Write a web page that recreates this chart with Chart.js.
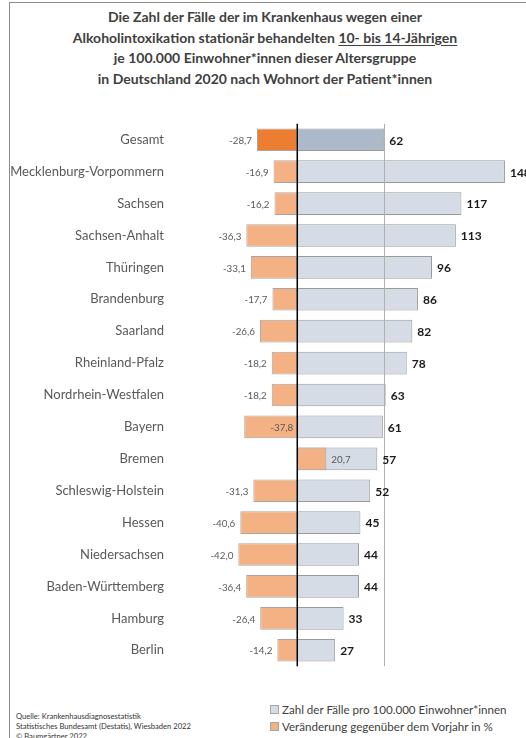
<!DOCTYPE html>
<html lang="de">
<head>
<meta charset="utf-8">
<script src="https://cdn.jsdelivr.net/npm/chart.js@4"></script>
<style>
  html, body { margin: 0; padding: 0; background: #fff; overflow: hidden; }
  body { width: 526px; height: 738px; position: relative; font-family: Lato, "Open Sans", sans-serif; }
  #rahmen { position: absolute; left: 9px; top: 2px; width: 700px; height: 900px;
            border-top: 1px solid #8c8c8c; border-left: 1px solid #8c8c8c; }
  #titel { position: absolute; left: 9px; width: 512px; top: 7px; text-align: center;
           font-weight: bold; font-size: 14px; line-height: 20.5px; color: #404040; }
  #titel u { text-decoration-thickness: 1px; text-underline-offset: 2px; }
  #box { position: absolute; left: 0; top: 110px; width: 526px; height: 570px; }
  #quelle { position: absolute; left: 16px; top: 711px; font-size: 7.6px; line-height: 10.2px; color: #333; }
  #legende { position: absolute; left: 270px; top: 701px; font-size: 11.6px; line-height: 17px; color: #404040; }
  #legende span.q { display: inline-block; width: 7px; height: 7px; margin-right: 3px; vertical-align: 0px; }
</style>
</head>
<body>
<div id="rahmen"></div>
<div id="titel">
  Die Zahl der Fälle der im Krankenhaus wegen einer<br>
  Alkoholintoxikation stationär behandelten <u>10- bis 14-Jährigen</u><br>
  je 100.000 Einwohner*innen dieser Altersgruppe<br>
  in Deutschland 2020 nach Wohnort der Patient*innen
</div>
<div id="box"><canvas id="grafik"></canvas></div>
<div id="quelle">
  Quelle: Krankenhausdiagnosestatistik<br>
  Statistisches Bundesamt (Destatis), Wiesbaden 2022<br>
  © Baumgärtner 2022
</div>
<div id="legende">
  <div><span class="q" style="background:#d6dce5;border:1px solid #a6a6a6"></span>Zahl der Fälle pro 100.000 Einwohner*innen</div>
  <div><span class="q" style="background:#f4b183;border:1px solid #a6a6a6"></span>Veränderung gegenüber dem Vorjahr in %</div>
</div>
<script>
const laender = ["Gesamt", "Mecklenburg-Vorpommern", "Sachsen", "Sachsen-Anhalt", "Thüringen",
  "Brandenburg", "Saarland", "Rheinland-Pfalz", "Nordrhein-Westfalen", "Bayern", "Bremen",
  "Schleswig-Holstein", "Hessen", "Niedersachsen", "Baden-Württemberg", "Hamburg", "Berlin"]
const faelle = [62, 148, 117, 113, 96, 86, 82, 78, 63, 61, 57, 52, 45, 44, 44, 33, 27]
const veraenderung = [-28.7, -16.9, -16.2, -36.3, -33.1, -17.7, -26.6, -18.2, -18.2, -37.8, 20.7,
  -31.3, -40.6, -42.0, -36.4, -26.4, -14.2]
// Beschriftung innerhalb des Balkens
const innenLabel = ["Bayern"]

const grauFarben = laender.map(l => l == "Gesamt" ? "#acb9ca" : "#d6dce5")
const orangeFarben = laender.map(l => l == "Gesamt" ? "#ed7d31" : "#f4b183")

const fmt = v => v.toFixed(1).replace(".", ",")

// Nulllinie und Referenzlinie (Gesamtwert)
const linienPlugin = {
  id: "linien",
  afterDatasetsDraw(chart) {
    const ctx = chart.ctx
    const area = chart.chartArea
    const x = chart.scales.x
    const x0 = x.getPixelForValue(0)
    const xg = Math.round(x.getPixelForValue(faelle[0])) + 0.5
    ctx.save()
    ctx.strokeStyle = "#b0b0b0"
    ctx.lineWidth = 1
    ctx.beginPath()
    ctx.moveTo(xg, area.top)
    ctx.lineTo(xg, area.bottom)
    ctx.stroke()
    ctx.strokeStyle = "#000"
    ctx.lineWidth = 1.5
    ctx.beginPath()
    ctx.moveTo(x0, area.top)
    ctx.lineTo(x0, area.bottom)
    ctx.stroke()
    ctx.restore()
  }
}

const labelPlugin = {
  id: "werte",
  afterDatasetsDraw(chart) {
    const ctx = chart.ctx
    const nullX = chart.scales.x.getPixelForValue(0)
    const orange = chart.getDatasetMeta(0)
    const grau = chart.getDatasetMeta(1)
    ctx.save()
    ctx.textBaseline = "middle"
    grau.data.forEach((bar, i) => {
      ctx.font = "bold 12px Lato"
      ctx.fillStyle = "#1a1a1a"
      ctx.textAlign = "left"
      ctx.fillText(faelle[i], bar.x + 5, bar.y + 1)
    })
    orange.data.forEach((bar, i) => {
      let v = veraenderung[i]
      ctx.font = "9.8px Lato"
      ctx.fillStyle = "#595959"
      if (innenLabel.includes(laender[i])) {
        ctx.textAlign = "right"
        ctx.fillText(fmt(v), nullX - 4, bar.y + 1)
      } else if (v < 0) {
        ctx.textAlign = "right"
        ctx.fillText(fmt(v), bar.x - 5, bar.y + 1)
      } else {
        ctx.textAlign = "left"
        ctx.fillText(fmt(v), bar.x + 5, bar.y + 1)
      }
    })
    ctx.restore()
  }
}

new Chart(document.getElementById("grafik"), {
  type: "bar",
  data: {
    labels: laender,
    datasets: [
      {
        label: "Veränderung gegenüber dem Vorjahr in %",
        data: veraenderung,
        backgroundColor: orangeFarben,
        borderColor: "#a6a6a6",
        borderWidth: 1,
        borderSkipped: false,
        grouped: false,
        barPercentage: 0.71,
        categoryPercentage: 1
      },
      {
        label: "Zahl der Fälle pro 100.000 Einwohner*innen",
        data: faelle,
        backgroundColor: grauFarben,
        borderColor: "#9a9a9a",
        borderWidth: 1,
        borderSkipped: false,
        grouped: false,
        barPercentage: 0.71,
        categoryPercentage: 1
      }
    ]
  },
  options: {
    indexAxis: "y",
    responsive: true,
    maintainAspectRatio: false,
    animation: false,
    layout: { padding: { top: 8, bottom: 12, left: 0, right: 0 } },
    plugins: { legend: { display: false }, tooltip: { enabled: false } },
    scales: {
      x: {
        display: false,
        min: -85,
        max: 163
      },
      y: {
        afterFit: s => { s.width = 178 },
        grid: { display: false },
        border: { display: false },
        ticks: { color: "#595959", font: { family: "Lato", size: 13 }, padding: 6 }
      }
    }
  },
  plugins: [linienPlugin, labelPlugin]
})
</script>
</body>
</html>
